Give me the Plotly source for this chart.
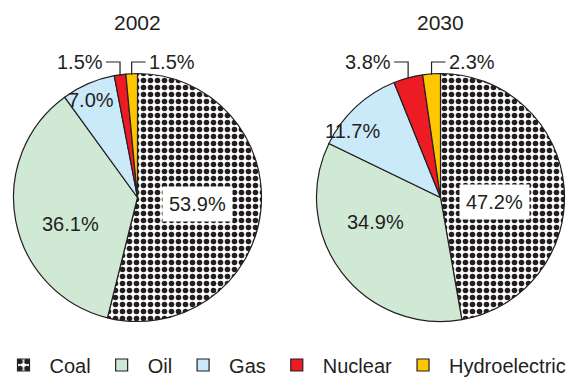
import math
import plotly.graph_objects as go

# ---- data ----
categories = ["Coal", "Oil", "Gas", "Nuclear", "Hydroelectric"]
years = ["2002", "2030"]
values_2002 = [53.9, 36.1, 7.0, 1.5, 1.5]
values_2030 = [47.2, 34.9, 11.7, 3.8, 2.3]
labels_2002 = ["53.9%", "36.1%", "7.0%", "1.5%", "1.5%"]
labels_2030 = ["47.2%", "34.9%", "11.7%", "3.8%", "2.3%"]

colors = ["#ffffff", "#d0e9d5", "#cae9f9", "#ed1c24", "#ffc700"]
FONT = "Liberation Sans, Arial, sans-serif"
INK = "#231f20"

W, H = 569, 377
R = 124
centers = [(137.5, 197.5), (440.5, 197.5)]
# label placement (radius fraction, angular nudge in degrees) per year
label_r = [[0.49, 0.58, 0.87], [0.44, 0.56, 0.89]]
label_nudge = [[-1, -11, -2], [10, 16, -10]]

fig = go.Figure()
annotations = []
shapes = []

for k, (yr, vals, labs) in enumerate(zip(years, [values_2002, values_2030], [labels_2002, labels_2030])):
    cx, cy = centers[k]
    fig.add_trace(go.Pie(
        labels=categories, values=vals, sort=False, direction="clockwise", rotation=0,
        domain=dict(x=[(cx - R) / W, (cx + R) / W], y=[1 - (cy + R) / H, 1 - (cy - R) / H]),
        marker=dict(colors=colors, line=dict(color=INK, width=1.2),
                    pattern=dict(shape=[".", "", "", "", ""], fgcolor=INK,
                                 bgcolor="#ffffff", size=7, solidity=0.5, fillmode="replace")),
        textinfo="none", hoverinfo="label+percent", showlegend=(k == 0),
    ))
    # title
    annotations.append(dict(text=yr, x=cx / W, y=1 - 23 / H, xref="paper", yref="paper",
                            xanchor="center", yanchor="middle",
                            showarrow=False, font=dict(size=21, color=INK, family=FONT)))
    total = sum(vals)
    cum = 0.0
    for i, v in enumerate(vals):
        mid = (cum + v / 2) / total * 360
        cum += v
        if i < 3:
            a = math.radians(mid + label_nudge[k][i])
            r = label_r[k][i] * R
            px, py = cx + r * math.sin(a), cy - r * math.cos(a)
            ann = dict(text=labs[i], x=px / W, y=1 - py / H, xref="paper", yref="paper",
                       xanchor="center", yanchor="middle",
                       showarrow=False, font=dict(size=20, color=INK, family=FONT))
            if i == 0:
                ann.update(bgcolor="#ffffff", borderpad=6)
            annotations.append(ann)
        else:
            a = math.radians(mid)
            ex, ey = cx + R * math.sin(a), cy - R * math.cos(a) + 1
            ly = 62
            side = -1 if i == 3 else 1
            hx = ex + side * 14
            shapes.append(dict(type="path", xref="paper", yref="paper",
                               path=f"M{ex / W},{1 - ey / H} L{ex / W},{1 - ly / H} L{hx / W},{1 - ly / H}",
                               line=dict(color=INK, width=1.2)))
            annotations.append(dict(text=labs[i], x=(hx + side * 1) / W, y=1 - ly / H,
                                    xref="paper", yref="paper", showarrow=False,
                                    xanchor="right" if side < 0 else "left", yanchor="middle",
                                    font=dict(size=20, color=INK, family=FONT)))

fig.update_layout(
    width=W, height=H, margin=dict(l=0, r=0, t=0, b=0, autoexpand=False),
    paper_bgcolor="#ffffff", plot_bgcolor="#ffffff",
    annotations=annotations, shapes=shapes,
    legend=dict(orientation="h", x=0.5, xanchor="center", xref="container",
                y=1 - 365 / H, yanchor="middle", yref="container",
                font=dict(size=20, color=INK, family=FONT), itemwidth=42,
                traceorder="normal"),
)
fig.write_html("out.html")
